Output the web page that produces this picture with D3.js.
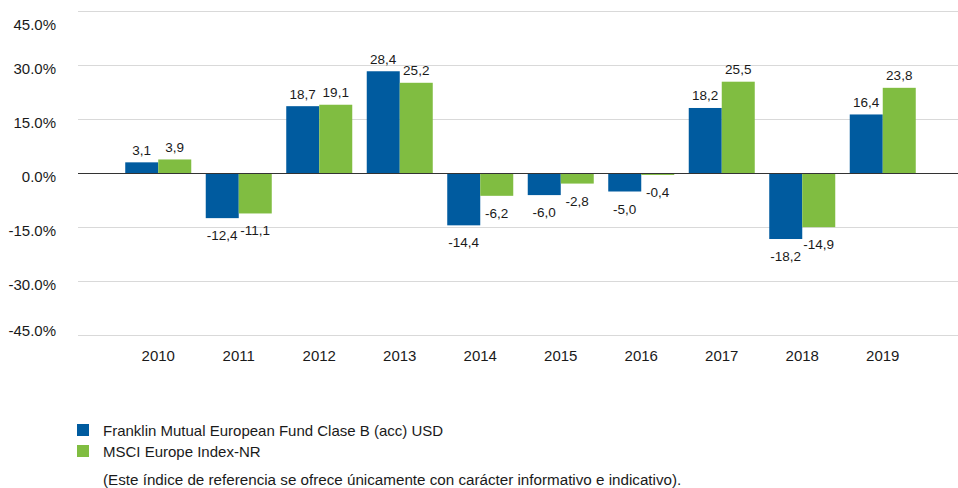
<!DOCTYPE html>
<html>
<head>
<meta charset="utf-8">
<script src="https://cdn.jsdelivr.net/npm/d3@7"></script>
<style>
	body { margin: 0; background: #fff; }
	text { font-family: "Liberation Sans", Arial, sans-serif; fill: #1a1a1a; }
</style>
</head>
<body>
<script>
//the data
let years = ["2010", "2011", "2012", "2013", "2014", "2015", "2016", "2017", "2018", "2019"];
let seriesNames = ["Franklin Mutual European Fund Clase B (acc) USD", "MSCI Europe Index-NR"];
let fundValues = [3.1, -12.4, 18.7, 28.4, -14.4, -6.0, -5.0, 18.2, -18.2, 16.4];
let indexValues = [3.9, -11.1, 19.1, 25.2, -6.2, -2.8, -0.4, 25.5, -14.9, 23.8];
let yTicks = [45, 30, 15, 0, -15, -30, -45];
let colors = ["#005b9f", "#80bd41"];
let footnote = "(Este índice de referencia se ofrece únicamente con carácter informativo e indicativo).";

let svg = d3.select("body").append("svg")
	.attr("width", 958)
	.attr("height", 488);

let gridLeft = 78, gridRight = 958;

let scaleY = d3.scaleLinear()
	.domain([-45, 45])
	.range([335.5, 11.5]);

let scaleX = d3.scaleBand() //one band per year
	.domain(years)
	.range([118, 923])
	.paddingInner(0.18)
	.paddingOuter(0.09);

let scaleSub = d3.scaleBand() //two bars inside each year
	.domain([0, 1])
	.range([0, scaleX.bandwidth()]);

//gridlines
svg.append("g").selectAll("line")
	.data(yTicks.filter(d => d !== 0))
	.enter().append("line")
	.attr("x1", gridLeft)
	.attr("x2", gridRight)
	.attr("y1", d => scaleY(d))
	.attr("y2", d => scaleY(d))
	.attr("stroke", "#d9d9d9")
	.attr("stroke-width", 1);

//y labels, the end ones are pulled in a bit like the original
svg.append("g").selectAll("text")
	.data(yTicks)
	.enter().append("text")
	.attr("x", 56)
	.attr("y", d => Math.max(25, Math.min(331, scaleY(d) + 3.5)))
	.attr("dy", "0.35em")
	.attr("text-anchor", "end")
	.attr("font-size", 15)
	.text(d => d3.format(".1f")(d).replace("−", "-") + "%");

//bars
let rows = [];
years.forEach((yr, i) => {
	rows.push({ year: yr, s: 0, v: fundValues[i] });
	rows.push({ year: yr, s: 1, v: indexValues[i] });
});

svg.append("g").selectAll("rect")
	.data(rows)
	.enter().append("rect")
	.attr("x", d => scaleX(d.year) + scaleSub(d.s))
	.attr("width", scaleSub.bandwidth())
	.attr("y", d => scaleY(Math.max(0, d.v)))
	.attr("height", d => Math.abs(scaleY(d.v) - scaleY(0)))
	.attr("fill", d => colors[d.s]);

//zero line
svg.append("line")
	.attr("x1", gridLeft)
	.attr("x2", gridRight)
	.attr("y1", scaleY(0))
	.attr("y2", scaleY(0))
	.attr("stroke", "#333")
	.attr("stroke-width", 1);

//value labels
let fmt = v => d3.format(".1f")(v).replace(".", ",").replace("−", "-");
svg.append("g").selectAll("text")
	.data(rows)
	.enter().append("text")
	.attr("x", d => scaleX(d.year) + scaleSub(d.s) + scaleSub.bandwidth() / 2)
	.attr("y", d => d.v >= 0 ? scaleY(d.v) - 7.5 : scaleY(d.v) + 22)
	.attr("text-anchor", "middle")
	.attr("font-size", 13.5)
	.text(d => fmt(d.v));

//year labels
svg.append("g").selectAll("text")
	.data(years)
	.enter().append("text")
	.attr("x", d => scaleX(d) + scaleX.bandwidth() / 2)
	.attr("y", 361)
	.attr("text-anchor", "middle")
	.attr("font-size", 15)
	.text(d => d);

//legend
let legend = svg.append("g").selectAll("g")
	.data(seriesNames)
	.enter().append("g")
	.attr("transform", (d, i) => `translate(77, ${424 + i * 21})`);

legend.append("rect")
	.attr("width", 12)
	.attr("height", 12)
	.attr("fill", (d, i) => colors[i]);

legend.append("text")
	.attr("x", 26)
	.attr("y", 12)
	.attr("font-size", 15)
	.text(d => d);

svg.append("text")
	.attr("x", 103)
	.attr("y", 485)
	.attr("font-size", 15.2)
	.text(footnote);
</script>
</body>
</html>
